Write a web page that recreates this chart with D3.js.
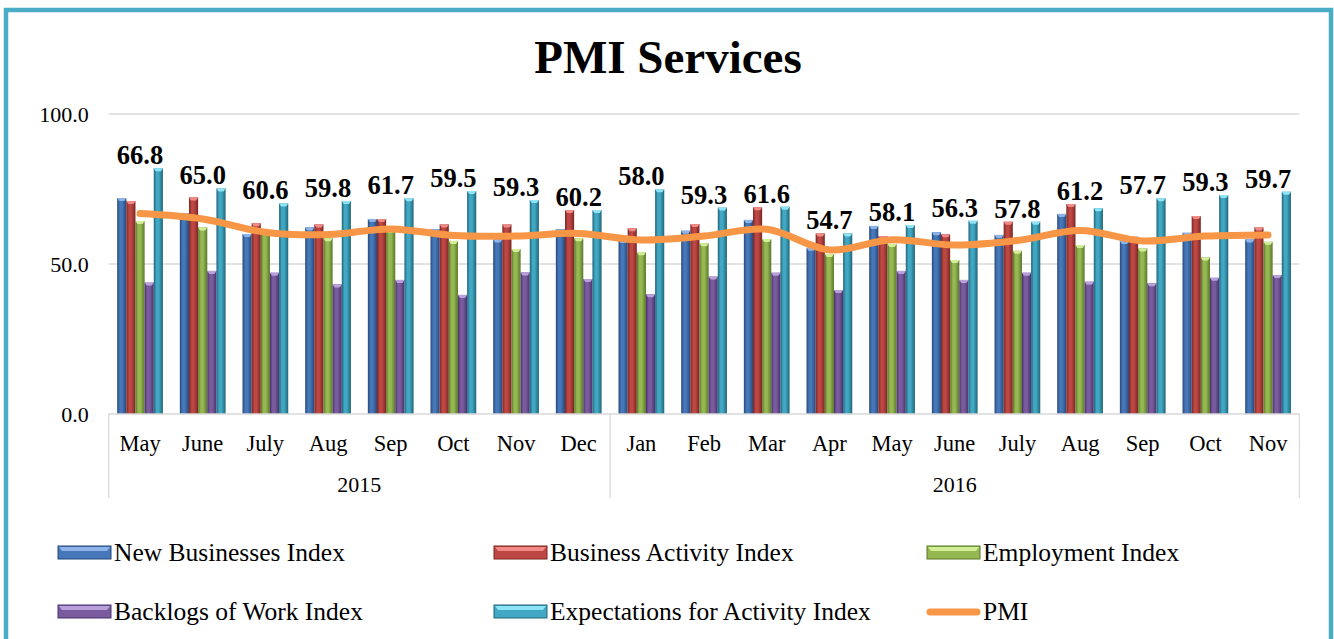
<!DOCTYPE html>
<html>
<head>
<meta charset="utf-8">
<script src="https://cdn.jsdelivr.net/npm/d3@7"></script>
<style>
    body { margin: 0; background: #fff; }
    #chart-area text { font-family: "Liberation Serif", "DejaVu Serif", serif; fill: #000; }
</style>
</head>
<body>
<div id="chart-area"></div>
<script>

// month labels and the year they belong to
let months = ["May", "June", "July", "Aug", "Sep", "Oct", "Nov", "Dec",
    "Jan", "Feb", "Mar", "Apr", "May", "June", "July", "Aug", "Sep", "Oct", "Nov"];
let years = ["2015", "2016"];
let monthsPerYear = [8, 11];

let seriesNames = ["New Businesses Index", "Business Activity Index", "Employment Index",
    "Backlogs of Work Index", "Expectations for Activity Index"];

let newBusinesses = [72.0, 66.9, 60.0, 62.2, 65.0, 61.6, 58.2, 61.6, 58.0, 61.1, 64.7, 55.4, 62.7, 60.6, 59.7, 66.7, 57.7, 60.4, 58.2];
let businessActivity = [71.0, 72.2, 63.6, 63.2, 65.0, 63.2, 63.2, 68.0, 61.9, 63.3, 68.9, 60.2, 59.3, 59.9, 64.1, 70.0, 59.1, 66.0, 62.2];
let employment = [64.3, 62.2, 61.2, 58.6, 61.5, 57.7, 55.0, 58.6, 53.9, 56.9, 58.3, 53.3, 56.7, 51.3, 54.4, 56.3, 55.2, 52.2, 57.4];
let backlogs = [43.8, 47.7, 47.1, 43.2, 44.7, 39.7, 47.2, 45.0, 39.9, 45.8, 47.1, 41.3, 47.7, 44.7, 47.1, 44.1, 43.6, 45.4, 46.3];
let expectations = [81.9, 75.2, 70.2, 71.0, 71.9, 74.3, 71.3, 68.0, 74.9, 68.8, 69.1, 60.2, 63.0, 64.4, 64.1, 68.6, 71.9, 73.0, 74.1];
let pmi = [66.8, 65.0, 60.6, 59.8, 61.7, 59.5, 59.3, 60.2, 58.0, 59.3, 61.6, 54.7, 58.1, 56.3, 57.8, 61.2, 57.7, 59.3, 59.7];

let yTicks = [0, 50, 100];


class PmiVis {

    constructor(_parentElement) {
        this.parentElement = _parentElement;
        this.initVis();
    }

    initVis() {
        let vis = this;

        vis.width = 1334;
        vis.height = 639;
        vis.plot = {left: 108.7, right: 1299.4, top: 114, bottom: 414};

        vis.svg = d3.select("#" + vis.parentElement).append("svg")
            .attr("width", vis.width)
            .attr("height", vis.height);

        // teal frame
        vis.svg.append("rect")
            .attr("x", 6).attr("y", 10)
            .attr("width", 1325).attr("height", 650)
            .attr("fill", "#fff")
            .attr("stroke", "#4BACC6")
            .attr("stroke-width", 4.5);

        vis.colors = [
            {base: "#4677B8", dark: "#26497A", light: "#8DB3E8"},
            {base: "#BC4743", dark: "#7A2624", light: "#F08A87"},
            {base: "#95B853", dark: "#5A7727", light: "#D4EE98"},
            {base: "#7A5C9E", dark: "#48326C", light: "#B9A0DB"},
            {base: "#41A7C2", dark: "#1F6579", light: "#8EE3F7"}
        ];

        // gradients to get the bevelled column look
        let defs = vis.svg.append("defs");
        vis.colors.forEach((c, i) => {
            let g = defs.append("linearGradient")
                .attr("id", "grad" + i)
                .attr("x1", "0%").attr("x2", "100%").attr("y1", "0%").attr("y2", "0%");
            g.append("stop").attr("offset", "0%").attr("stop-color", c.dark);
            g.append("stop").attr("offset", "30%").attr("stop-color", c.base);
            g.append("stop").attr("offset", "55%").attr("stop-color", c.base);
            g.append("stop").attr("offset", "100%").attr("stop-color", c.dark);
        });

        vis.x0 = d3.scaleBand()
            .domain(d3.range(months.length))
            .range([vis.plot.left, vis.plot.right])
            .paddingInner(0.27)
            .paddingOuter(0.135);

        vis.x1 = d3.scaleBand()
            .domain(d3.range(seriesNames.length))
            .range([0, vis.x0.bandwidth()]);

        vis.y = d3.scaleLinear()
            .domain([0, 100])
            .range([vis.plot.bottom, vis.plot.top]);

        vis.wrangleData();
    }

    wrangleData() {
        let vis = this;

        let all = [newBusinesses, businessActivity, employment, backlogs, expectations];
        vis.displayData = months.map((m, i) => ({
            index: i,
            month: m,
            values: all.map(s => s[i]),
            pmi: pmi[i]
        }));

        vis.updateVis();
    }

    updateVis() {
        let vis = this;

        // title
        vis.svg.append("text")
            .attr("x", 668).attr("y", 73)
            .attr("text-anchor", "middle")
            .style("font-size", "47px")
            .style("font-weight", "bold")
            .text("PMI Services");

        // gridlines
        vis.svg.append("g")
            .selectAll("line")
            .data(yTicks.filter(d => d > 0))
            .enter().append("line")
            .attr("x1", vis.plot.left).attr("x2", vis.plot.right)
            .attr("y1", d => vis.y(d)).attr("y2", d => vis.y(d))
            .attr("stroke", "#D9D9D9")
            .attr("stroke-width", 1.3);

        // y axis labels
        let yAxis = d3.axisLeft(vis.y)
            .tickValues(yTicks)
            .tickFormat(d3.format(".1f"))
            .tickSize(0)
            .tickPadding(20);

        vis.svg.append("g")
            .attr("transform", "translate(" + vis.plot.left + ",0)")
            .call(yAxis)
            .call(g => g.select(".domain").remove())
            .selectAll("text")
            .style("font-size", "22px")
            .style("font-family", "'Liberation Serif', serif");

        // columns
        let groups = vis.svg.append("g")
            .selectAll("g")
            .data(vis.displayData)
            .enter().append("g")
            .attr("transform", d => "translate(" + vis.x0(d.index) + ",0)");

        let bars = groups.selectAll("g.bar")
            .data(d => d.values.map((v, k) => ({k: k, v: v})))
            .enter().append("g")
            .attr("class", "bar");

        bars.append("rect")
            .attr("x", d => vis.x1(d.k))
            .attr("y", d => vis.y(d.v))
            .attr("width", vis.x1.bandwidth())
            .attr("height", d => vis.y(0) - vis.y(d.v))
            .attr("fill", d => "url(#grad" + d.k + ")");

        // little bevel cap on top of each column
        bars.append("path")
            .attr("d", d => {
                let x = vis.x1(d.k), w = vis.x1.bandwidth(), t = vis.y(d.v);
                return "M" + x + "," + t + "L" + (x + w) + "," + t +
                    "L" + (x + w - 2) + "," + (t + 3) + "L" + (x + 2) + "," + (t + 3) + "Z";
            })
            .attr("fill", d => vis.colors[d.k].light);

        // x axis line and year separators
        let axis = vis.svg.append("g").attr("stroke", "#D9D9D9").attr("stroke-width", 1.3);
        axis.append("line")
            .attr("x1", vis.plot.left).attr("x2", vis.plot.right)
            .attr("y1", vis.y(0)).attr("y2", vis.y(0));

        let cum = [0];
        monthsPerYear.forEach(n => cum.push(cum[cum.length - 1] + n));
        let step = vis.x0.step();
        let edgeX = i => vis.plot.left + i * step;

        axis.selectAll("line.sep")
            .data(cum)
            .enter().append("line")
            .attr("class", "sep")
            .attr("x1", d => edgeX(d)).attr("x2", d => edgeX(d))
            .attr("y1", vis.y(0)).attr("y2", 498);

        // month labels
        vis.svg.append("g")
            .selectAll("text")
            .data(vis.displayData)
            .enter().append("text")
            .attr("x", d => vis.x0(d.index) + vis.x0.bandwidth() / 2)
            .attr("y", 451)
            .attr("text-anchor", "middle")
            .style("font-size", "22.5px")
            .text(d => d.month);

        // year labels
        vis.svg.append("g")
            .selectAll("text")
            .data(years)
            .enter().append("text")
            .attr("x", (d, i) => (edgeX(cum[i]) + edgeX(cum[i + 1])) / 2)
            .attr("y", 492)
            .attr("text-anchor", "middle")
            .style("font-size", "22px")
            .text(d => d);

        // PMI line
        let line = d3.line()
            .x(d => vis.x0(d.index) + vis.x0.bandwidth() / 2)
            .y(d => vis.y(d.pmi))
            .curve(d3.curveCatmullRom.alpha(0.5));

        vis.svg.append("path")
            .datum(vis.displayData)
            .attr("d", line)
            .attr("fill", "none")
            .attr("stroke", "#F79646")
            .attr("stroke-width", 7)
            .attr("stroke-linecap", "round")
            .attr("stroke-linejoin", "round");

        // PMI value labels, sitting above the tallest column of each month
        vis.svg.append("g")
            .selectAll("text")
            .data(vis.displayData)
            .enter().append("text")
            .attr("x", d => vis.x0(d.index) + vis.x0.bandwidth() / 2)
            .attr("y", d => vis.y(d3.max(d.values)) - 4)
            .attr("text-anchor", "middle")
            .style("font-size", "26.5px")
            .style("font-weight", "bold")
            .text(d => d3.format(".1f")(d.pmi));

        // legend
        let legendItems = seriesNames.map((name, i) => ({name: name, k: i}))
            .concat([{name: "PMI", k: -1}]);
        let colX = [58, 494, 927];
        let rowY = [553, 612];

        let legend = vis.svg.append("g")
            .selectAll("g")
            .data(legendItems)
            .enter().append("g")
            .attr("transform", (d, i) => "translate(" + colX[i % 3] + "," + rowY[Math.floor(i / 3)] + ")");

        legend.filter(d => d.k >= 0).append("rect")
            .attr("x", 0).attr("y", -7)
            .attr("width", 53).attr("height", 13)
            .attr("fill", d => vis.colors[d.k].base)
            .attr("stroke", d => vis.colors[d.k].dark)
            .attr("stroke-width", 1);

        legend.filter(d => d.k >= 0).append("path")
            .attr("d", "M1,-6L52,-6L49,-2L4,-2Z")
            .attr("fill", d => vis.colors[d.k].light);

        legend.filter(d => d.k < 0).append("line")
            .attr("x1", 3).attr("x2", 50)
            .attr("y1", 0).attr("y2", 0)
            .attr("stroke", "#F79646")
            .attr("stroke-width", 7)
            .attr("stroke-linecap", "round");

        legend.append("text")
            .attr("x", 56).attr("y", 8)
            .style("font-size", "25.5px")
            .text(d => d.name);
    }
}

new PmiVis("chart-area");

</script>
</body>
</html>
